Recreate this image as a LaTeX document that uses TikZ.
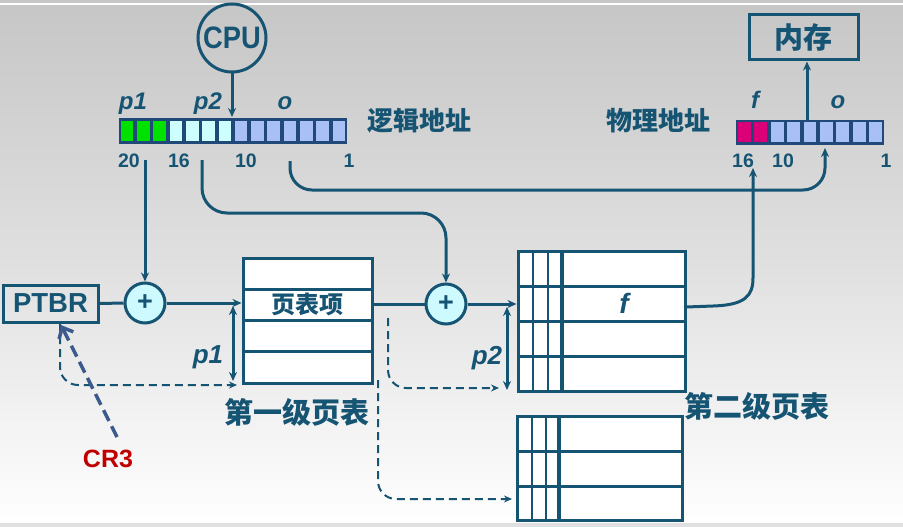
\documentclass[tikz,border=0pt]{standalone}
\usepackage{fontspec}
\setmainfont{Liberation Sans}
\newfontfamily\cjk{Noto Sans CJK SC}
\usetikzlibrary{arrows.meta,calc}
\definecolor{navy}{RGB}{22,84,115}
\definecolor{barnavy}{RGB}{32,72,120}
\definecolor{bgreen}{RGB}{0,225,0}
\definecolor{bcyan}{RGB}{205,255,255}
\definecolor{bblue}{RGB}{168,192,245}
\definecolor{bmag}{RGB}{220,0,120}
\definecolor{crred}{RGB}{192,0,0}
\definecolor{crblue}{RGB}{60,90,140}
\definecolor{pluscyan}{RGB}{205,250,255}
\definecolor{bgtop}{RGB}{198,198,198}
\definecolor{bgmid}{RGB}{224,224,224}
\begin{document}
\begin{tikzpicture}[x=1pt,y=-1pt,
 line/.style={navy,line width=3pt},
 arr/.style={line,-{Stealth[length=9pt,width=8pt]}},
 darr/.style={line,{Stealth[length=9pt,width=8pt]}-{Stealth[length=9pt,width=8pt]}},
 dashline/.style={navy,line width=2pt,dash pattern=on 8pt off 5pt,-{Stealth[length=8pt,width=7pt]},rounded corners=18pt},
 plusnode/.style={circle,draw=navy,line width=3pt,fill=pluscyan,minimum size=40pt,inner sep=0pt,font=\bfseries\fontsize{27}{27}\selectfont,text=navy},
 numlbl/.style={text=navy,font=\bfseries\fontsize{19.5}{19.5}\selectfont,anchor=base,inner sep=0pt},
 itlbl/.style={text=navy,font=\bfseries\itshape\fontsize{24}{24}\selectfont,anchor=base,inner sep=0pt},
 cjklbl/.style={text=navy,font=\cjk\bfseries\fontsize{26}{26}\selectfont,inner sep=0pt},
 tablebox/.style={draw=navy,line width=3pt,fill=white,inner sep=0pt},
 thinv/.style={navy,line width=1.5pt},
 thickv/.style={navy,line width=4pt},
]
\useasboundingbox (0,0) rectangle (903,527);
% background
\shade[top color=bgtop,bottom color=white,middle color=bgmid] (0,0) rectangle (903,527);
\draw[white,line width=2pt] (0,4) -- (903,4);
\fill[black!12] (0,523) rectangle (903,527);

% CPU and memory
\node[circle,draw=navy,line width=3pt,minimum size=68pt,inner sep=0pt,text=navy,font=\bfseries\fontsize{31}{31}\selectfont] (cpu) at (232,38) {\scalebox{0.88}[1]{CPU}};
\node[tablebox,fill=none,minimum width=109pt,minimum height=45pt,cjklbl,font=\cjk\bfseries\fontsize{29}{29}\selectfont] (mem) at (803.5,37.5) {内存};

% logical address bar
\node[minimum width=228pt,minimum height=26pt,inner sep=0pt,fill=barnavy] (lbar) at (233,131) {};
\foreach \i in {0,...,13}{
  \pgfmathsetmacro\xa{119+\i*228/14+1.8}
  \pgfmathsetmacro\xb{119+(\i+1)*228/14-1.8}
  \ifnum\i<3 \def\cc{bgreen}\else\ifnum\i<7 \def\cc{bcyan}\else\def\cc{bblue}\fi\fi
  \fill[\cc] (\xa,120.8) rectangle (\xb,141.2);
}
% physical address bar
\node[minimum width=148pt,minimum height=25pt,inner sep=0pt,fill=barnavy] (pbar) at (810,132) {};
\foreach \i in {0,...,8}{
  \pgfmathsetmacro\xa{736+\i*148/9+1.8}
  \pgfmathsetmacro\xb{736+(\i+1)*148/9-1.8}
  \ifnum\i<2 \def\cc{bmag}\else\def\cc{bblue}\fi
  \fill[\cc] (\xa,122.3) rectangle (\xb,141.7);
}

% bar labels
\node[itlbl] (lp1) at (133,110) {p1};
\node[itlbl] (lp2) at (208,110) {p2};
\node[itlbl] (lo) at (285,110) {o};
\node[itlbl] (pf) at (755,108) {f};
\node[itlbl] (po) at (838,108) {o};
\node[numlbl] (n20) at (129,167) {20};
\node[numlbl] (n16) at (179,167) {16};
\node[numlbl] (n10) at (246,167) {10};
\node[numlbl] (n1) at (349,167) {1};
\node[numlbl] (m16) at (743,167) {16};
\node[numlbl] (m10) at (783,167) {10};
\node[numlbl] (m1) at (886,167) {1};
\node[cjklbl] (laddr) at (419,121) {逻辑地址};
\node[cjklbl] (paddr) at (658,121) {物理地址};

% PTBR and adders
\node[tablebox,fill=none,minimum width=95pt,minimum height=37pt,text=navy,font=\bfseries\fontsize{27.5}{27.5}\selectfont] (ptbr) at (50.5,303.5) {PTBR};
\node[plusnode] (plus1) at (145,303) {+};
\node[plusnode] (plus2) at (446,304) {+};

% first-level table
\node[tablebox,minimum width=129pt,minimum height=125pt] (t1) at (307.5,320.5) {};
\foreach \y in {289,320,351} \draw[line] (243,\y) -- (372,\y);
\node[cjklbl,font=\cjk\bfseries\fontsize{24}{24}\selectfont] (pte) at (307,304) {页表项};
\node[cjklbl,font=\cjk\bfseries\fontsize{29}{29}\selectfont] (t1lbl) at (297,412) {第一级页表};

% second-level table
\node[tablebox,minimum width=167pt,minimum height=140pt] (t2) at (601.5,321) {};
\foreach \y in {286,321,356} \draw[line] (518,\y) -- (685,\y);
\draw[thinv] (533,251) -- (533,391);
\draw[thinv] (548,251) -- (548,391);
\draw[thickv] (562,251) -- (562,391);
\node[itlbl,font=\bfseries\itshape\fontsize{28}{28}\selectfont,anchor=center] (tf) at (624,303) {f};
\node[cjklbl,font=\cjk\bfseries\fontsize{29}{29}\selectfont] (t2lbl) at (757,406) {第二级页表};

% another second-level table
\node[tablebox,minimum width=165pt,minimum height=104pt] (t3) at (599.5,468) {};
\foreach \y in {451,486} \draw[line] (517,\y) -- (682,\y);
\draw[thinv] (532,416) -- (532,520);
\draw[thinv] (546,416) -- (546,520);
\draw[thickv] (559,416) -- (559,520);

% coordinates
\coordinate (cpuin) at (232,117);
\coordinate (p1s) at (145,160);
\coordinate (p2s) at (202,160);
\coordinate (os) at (290,161);
\coordinate (oe) at (825,148);
\coordinate (fs) at (686,307);
\coordinate (fe) at (753,168);
\coordinate (ms) at (807,120);
\coordinate (d1s) at (60,323);
\coordinate (d1e) at (237,385);
\coordinate (d2s) at (388,318);
\coordinate (d2e) at (499,388);
\coordinate (d3s) at (378,380);
\coordinate (d3e) at (512,499);
\coordinate (a1t) at (233,306);
\coordinate (a1b) at (233,381);
\coordinate (a2t) at (507,307);
\coordinate (a2b) at (507,390);
\coordinate (crs) at (117,437);
\coordinate (cre) at (61,325);

% connectors
\draw[arr] (cpu.south) -- (cpuin);
\draw[arr] (p1s) -- (plus1.north);
\draw[line] (ptbr.east) -- (plus1.west);
\draw[arr] (plus1.east) -- (t1.west |- plus1);
\draw[arr,rounded corners=25pt] (p2s) -- (202,213) -- (446,213) -- (plus2.north);
\draw[line] (t1.east |- pte) -- (plus2.west);
\draw[arr] (plus2.east) -- (t2.west |- plus2);
\draw[arr,rounded corners=22pt] (os) -- (290,190) -- (825,190) -- (oe);
\draw[arr] (fs) -- (713,306) .. controls (745,305) and (753,296) .. (753,278) -- (fe);
\draw[arr] (ms) -- (ms |- mem.south);
\draw[darr] (a1t) -- (a1b);
\draw[darr] (a2t) -- (a2b);
\node[itlbl,font=\bfseries\itshape\fontsize{26}{26}\selectfont] (lp1b) at (208,363) {p1};
\node[itlbl,font=\bfseries\itshape\fontsize{26}{26}\selectfont] (lp2b) at (487,364) {p2};
\draw[dashline] (d1s) -- (60,385) -- (d1e);
\draw[dashline] (d2s) -- (388,388) -- (d2e);
\draw[dashline] (d3s) -- (378,499) -- (d3e);
\draw[crblue,line width=3.5pt,dash pattern=on 12pt off 6pt,-{Straight Barb[length=9pt,width=16pt]}] (crs) -- (cre);
\node[text=crred,font=\bfseries\fontsize{25}{25}\selectfont] (cr3) at (108,459) {CR3};
\end{tikzpicture}
\end{document}
